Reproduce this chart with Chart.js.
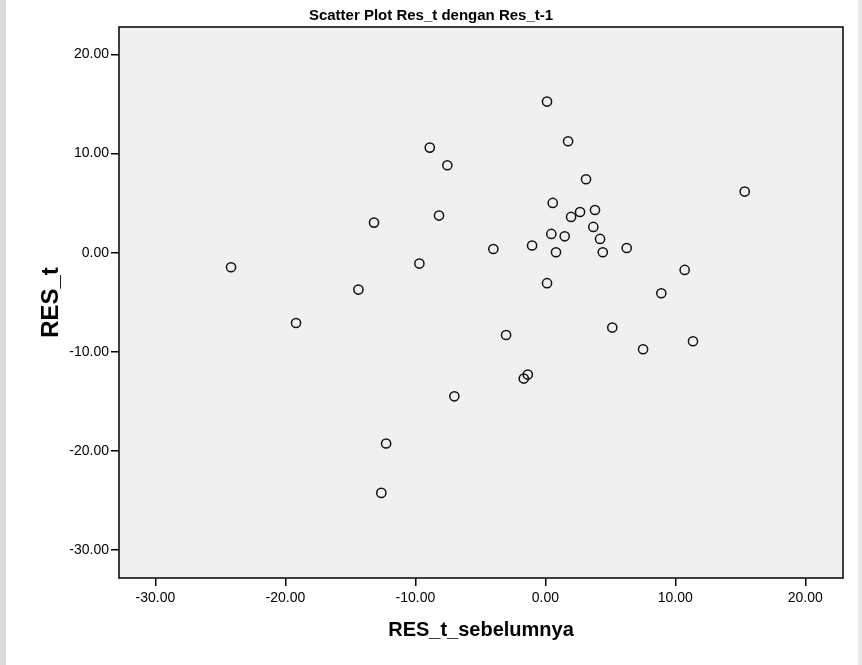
<!DOCTYPE html>
<html>
<head>
<meta charset="utf-8">
<script src="https://cdn.jsdelivr.net/npm/chart.js@4.4.0/dist/chart.umd.min.js"></script>
<style>
  html, body { margin: 0; padding: 0; background: #fff; }
  #wrap { width: 862px; height: 665px; position: relative; }
  #wrap canvas { position: absolute; left: 0; top: 0; }
  /* faint scan edges of the source page */
  #wrap::before { content: ""; position: absolute; left: 0; top: 0; width: 6px; height: 665px; background: #dadada; }
  #wrap::after { content: ""; position: absolute; right: 0; top: 0; width: 4px; height: 665px; background: #e8e8e8; }
</style>
</head>
<body>
<div id="wrap"><canvas id="scatter" width="862" height="665"></canvas></div>
<script>
// residuals (x = previous residual, y = residual)
const resPrev = [0.13, 1.75, -8.89, -7.54, 3.13, 15.34, 0.57, 2.67, 3.82, 1.98,
  -8.18, -13.18, 3.69, 0.46, 1.49, 4.21, -1.02, -4.0, 6.26, 0.82,
  4.42, -24.18, -9.69, 10.72, 0.13, -14.38, 8.92, -19.18, 5.15, -3.02,
  11.36, 7.52, -1.35, -1.66, -7.0, -12.25, -12.62];
const resNow = [15.23, 11.23, 10.59, 8.81, 7.40, 6.16, 5.01, 4.10, 4.30, 3.60,
  3.74, 3.03, 2.59, 1.89, 1.65, 1.38, 0.72, 0.37, 0.47, 0.04,
  0.04, -1.47, -1.10, -1.74, -3.08, -3.72, -4.09, -7.09, -7.55, -8.30,
  -8.93, -9.74, -12.29, -12.69, -14.48, -19.24, -24.22];
const xTicks = [-30, -20, -10, 0, 10, 20];
const yTicks = [-30, -20, -10, 0, 10, 20];

const points = resPrev.map((x, i) => ({ x: x, y: resNow[i] }));

// grey plot area + black frame
const plotBox = {
  id: "plotBox",
  beforeDraw(chart) {
    const a = chart.chartArea;
    const c = chart.ctx;
    c.save();
    c.fillStyle = "#f0f0f0";
    c.fillRect(a.left, a.top, a.right - a.left, a.bottom - a.top);
    c.restore();
  },
  afterDraw(chart) {
    const a = chart.chartArea;
    const c = chart.ctx;
    c.save();
    c.strokeStyle = "#000";
    c.lineWidth = 1.5;
    c.strokeRect(a.left, a.top, a.right - a.left, a.bottom - a.top);
    c.restore();
  },
};

const fam = "'Liberation Sans', Arial, sans-serif";
const tickFont = { family: fam, size: 14 };

const ctx = document.getElementById("scatter").getContext("2d");
const scatter = new Chart(ctx, {
  type: "scatter",
  data: {
    datasets: [
      {
        label: "RES_t",
        data: points,
        pointStyle: "circle",
        pointRadius: 4.6,
        pointHoverRadius: 4.6,
        pointBorderWidth: 1.5,
        borderColor: "#111",
        backgroundColor: "rgba(0,0,0,0)",
      },
    ],
  },
  options: {
    responsive: false,
    animation: false,
    layout: { padding: 0 },
    plugins: {
      legend: { display: false },
      tooltip: { enabled: false },
      title: {
        display: true,
        text: "Scatter Plot Res_t dengan Res_t-1",
        color: "#000",
        font: { family: fam, size: 15, weight: "bold", lineHeight: 1.2 },
        padding: { top: 7, bottom: 2 },
      },
    },
    scales: {
      x: {
        type: "linear",
        min: -32.8,
        max: 22.9,
        afterBuildTicks: (s) => { s.ticks = xTicks.map((v) => ({ value: v })); },
        afterFit: (s) => { s.height = 87; },
        grid: { display: true, drawOnChartArea: false, drawTicks: true, tickLength: 8, color: "#000", lineWidth: 1.5 },
        border: { display: false },
        ticks: { color: "#000", font: tickFont, padding: 4, maxRotation: 0, callback: (v) => Number(v).toFixed(2) },
        title: {
          display: true,
          text: "RES_t_sebelumnya",
          color: "#000",
          font: { family: fam, size: 20, weight: "bold", lineHeight: 1.2 },
          padding: { top: 0, bottom: 23 },
        },
      },
      y: {
        type: "linear",
        min: -32.8,
        max: 22.75,
        afterBuildTicks: (s) => { s.ticks = yTicks.map((v) => ({ value: v })); },
        afterFit: (s) => { s.width = 119; },
        grid: { display: true, drawOnChartArea: false, drawTicks: true, tickLength: 8, color: "#000", lineWidth: 1.5 },
        border: { display: false },
        ticks: { color: "#000", font: tickFont, padding: 2, callback: (v) => Number(v).toFixed(2) },
        title: {
          display: true,
          text: "RES_t",
          color: "#000",
          font: { family: fam, size: 24, weight: "bold", lineHeight: 1.2 },
          padding: { top: 37, bottom: 0 },
        },
      },
      // empty right margin so the title stays centred on the page
      yRight: {
        type: "linear",
        position: "right",
        min: -32.8,
        max: 22.75,
        afterFit: (s) => { s.width = 19; },
        grid: { display: false },
        border: { display: false },
        ticks: { display: false },
      },
    },
  },
  plugins: [plotBox],
});
</script>
</body>
</html>
